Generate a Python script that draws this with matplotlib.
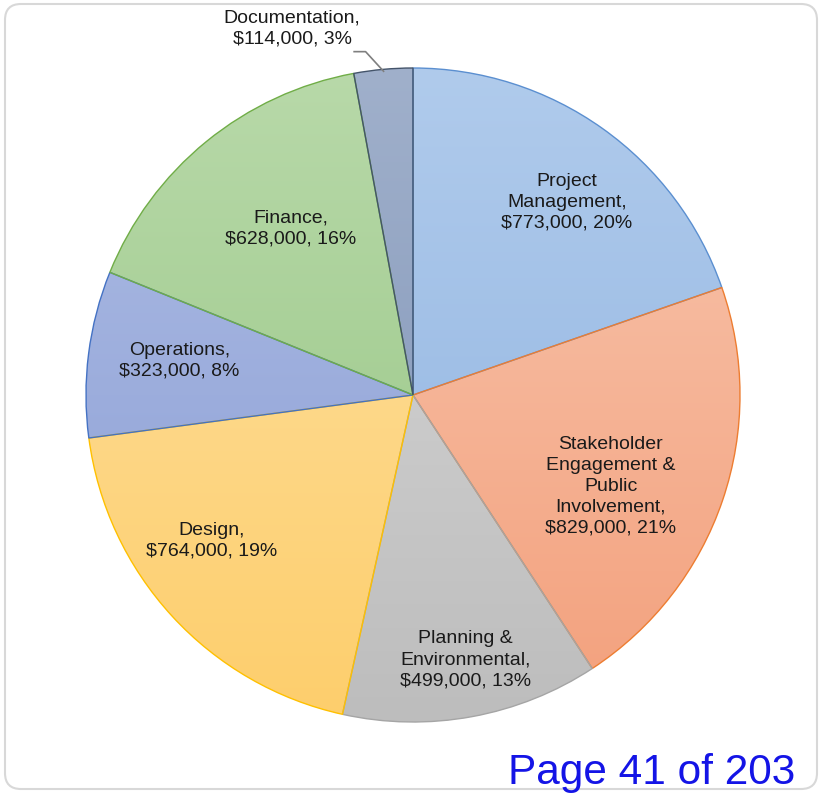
import numpy as np
import matplotlib.pyplot as plt
from matplotlib.colors import LinearSegmentedColormap
from matplotlib.patches import FancyBboxPatch

# === Data ===
categories = ["Project\nManagement", "Stakeholder\nEngagement &\nPublic\nInvolvement",
              "Planning &\nEnvironmental", "Design", "Operations", "Finance", "Documentation"]
costs = [773000, 829000, 499000, 764000, 323000, 628000, 114000]
percents = [20, 21, 13, 19, 8, 16, 3]

# gradient top/bottom + edge colour per slice
top_colors = ["#b0cbec", "#f8c7b0", "#d9d9d9", "#ffe2a6", "#aebde4", "#b8d9a9", "#a0b0cb"]
bottom_colors = ["#8eb2e0", "#f3a07c", "#bdbdbd", "#fdce6c", "#8a9dd5", "#95c582", "#7d92b6"]
edge_colors = ["#5b8fd0", "#ed7d31", "#a5a5a5", "#ffc000", "#4472c4", "#70ad47", "#44546a"]

# label positions inside the pie (data units, radius 1)
label_pos = [(0.47, 0.59), (0.605, -0.28), (0.16, -0.81), (-0.615, -0.445),
             (-0.715, 0.105), (-0.375, 0.51), (-0.37, 1.12)]

W, H = 822, 793
fig = plt.figure(figsize=(W / 100, H / 100), dpi=100)

# rounded frame (pixel-based so corners stay round)
frame = FancyBboxPatch((5, 4), 812, 785,
                       boxstyle="round,pad=0,rounding_size=16",
                       transform=None, facecolor="none",
                       edgecolor="#d8d8d8", linewidth=1.5, zorder=-1)
fig.patches.append(frame)

cx, cy, r = 413, 395, 327
ax = fig.add_axes([(cx - r) / W, (H - cy - r) / H, 2 * r / W, 2 * r / H])
ax.axis("off")

wedges, _ = ax.pie(costs, startangle=90, counterclock=False, radius=1,
                   wedgeprops=dict(linewidth=1.0))
ax.set_xlim(-1, 1)
ax.set_ylim(-1, 1)

grad = np.linspace(0, 1, 256).reshape(-1, 1)
for w, t, b, e in zip(wedges, top_colors, bottom_colors, edge_colors):
    w.set_facecolor("none")
    w.set_edgecolor(e)
    w.set_zorder(3)
    cmap = LinearSegmentedColormap.from_list("g", [b, t])
    im = ax.imshow(grad, cmap=cmap, extent=[-1, 1, -1, 1], origin="lower",
                   aspect="auto", zorder=2)
    im.set_clip_path(w)

for i, (name, cost, pct) in enumerate(zip(categories, costs, percents)):
    txt = f"{name},\n${cost:,}, {pct}%"
    x, y = label_pos[i]
    ax.text(x, y, txt, ha="center", va="center", fontsize=14,
            family="Liberation Sans", color="#1a1a1a", linespacing=1.3,
            zorder=5, clip_on=False)

# leader line for Documentation
ax.plot([-0.18, -0.145, -0.09], [1.05, 1.05, 0.99], color="#7f7f7f",
        linewidth=1.2, zorder=4, clip_on=False)

fig.text(795 / W, 1 - 784 / H, "Page 41 of 203", ha="right", va="baseline",
         fontsize=30.5, family="Liberation Sans", color="#1414e6")

fig.savefig("out.png", dpi=100)
